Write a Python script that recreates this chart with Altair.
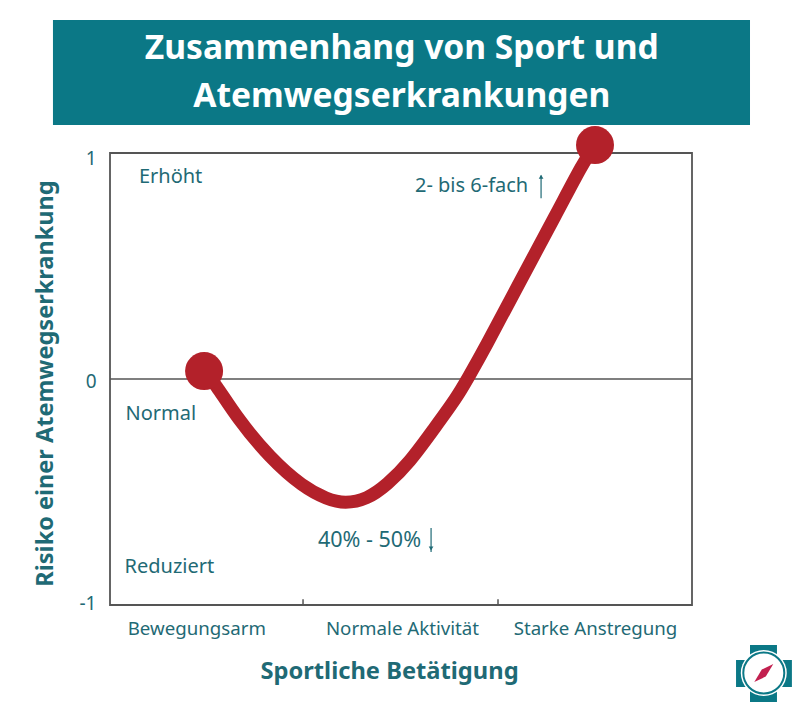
import altair as alt
import pandas as pd

TEAL = "#0b7886"
TXT = "#1f6a75"
RED = "#b3212a"
FRAME = "#555555"
FONT = "Noto Sans"

# curve (x: activity scale 0-3, y: risk -1..1)
curve_x = [0.485, 0.541, 0.655, 0.825, 0.995, 1.119, 1.211, 1.325, 1.428, 1.546, 1.665, 1.789, 1.845, 1.933, 2.098, 2.304, 2.438, 2.5]
curve_y = [0.035, -0.018, -0.173, -0.35, -0.478, -0.532, -0.552, -0.532, -0.469, -0.367, -0.226, -0.08, 0.004, 0.137, 0.407, 0.735, 0.956, 1.035]
end_x = [0.485, 2.5]
end_y = [0.035, 1.035]

label_x = [0.149, 0.08, 0.075, 1.572, 1.072]
label_y = [0.895, -0.155, -0.83, 0.855, -0.717]
labels = ["Erhöht", "Normal", "Reduziert", "2- bis 6-fach", "40% - 50%"]
label_size = [20, 20, 20, 20, 21.5]

x_ticks = [0.445, 1.505, 2.5]
x_names = ["Bewegungsarm", "Normale Aktivität", "Starke Anstregung"]

title_lines = ["Zusammenhang von Sport und", "Atemwegserkrankungen"]
title_y = [1.46, 1.25]

X = alt.Scale(domain=[0, 3], nice=False, zero=False)
Y = alt.Scale(domain=[-1, 1], nice=False, zero=False)
xe = lambda f="x", **k: alt.X(f"{f}:Q", scale=X, axis=None, **k)
ye = lambda f="y", **k: alt.Y(f"{f}:Q", scale=Y, axis=None, **k)

banner = alt.Chart(pd.DataFrame({"x": [-0.294], "x2": [3.299], "y": [1.124], "y2": [1.588]})).mark_rect(
    color=TEAL, clip=False
).encode(x=xe(), x2="x2:Q", y=ye(), y2="y2:Q")
title = alt.Chart(pd.DataFrame({"x": [1.504, 1.504], "y": title_y, "t": title_lines})).mark_text(
    align="center", baseline="middle", font=FONT, fontSize=33.6, fontWeight="bold", color="white", clip=False
).encode(x=xe(), y=ye(), text="t:N")

expr = "datum.value < 1 ? '" + x_names[0] + "' : datum.value < 2 ? '" + x_names[1] + "' : '" + x_names[2] + "'"
base = alt.Chart(pd.DataFrame({"x": [0.0], "y": [0.0]})).mark_point(opacity=0).encode(
    x=alt.X("x:Q", scale=X, title="Sportliche Betätigung", axis=alt.Axis(
        values=x_ticks, labelExpr=expr, ticks=False, domain=False, grid=False, labelFontSize=18.7,
        labelFont=FONT, labelColor=TXT, labelPadding=14, titleFont=FONT, titleFontSize=23.7,
        titleColor=TXT, titleFontWeight="bold", titlePadding=22, titleX=279)),
    y=alt.Y("y:Q", scale=Y, title="Risiko einer Atemwegserkrankung", axis=alt.Axis(
        values=[-1, 0, 1], labelExpr="datum.value == -1 ? '-1' : '' + datum.value", ticks=False,
        domain=False, grid=False, labelFontSize=19, labelOverlap=False,
        labelOffset={"expr": "datum.value == 1 ? 5 : datum.value == 0 ? 2 : -2"},
        labelFont=FONT, labelColor=TXT, labelPadding=14, titleFont=FONT, titleFontSize=23.5,
        titleColor=TXT, titleFontWeight="bold", titlePadding=22, titleY=230)),
)

zero = alt.Chart(pd.DataFrame({"y": [0.0]})).mark_rule(color=FRAME, strokeWidth=1.5).encode(y=ye())
ticks = alt.Chart(pd.DataFrame({"x": [0.995, 2.0], "y": [-1.0, -1.0], "y2": [-0.975, -0.975]})).mark_rule(
    color=FRAME, strokeWidth=1.5).encode(x=xe(), y=ye(), y2="y2:Q")

line = alt.Chart(pd.DataFrame({"x": curve_x, "y": curve_y, "o": range(len(curve_x))})).mark_line(
    color=RED, strokeWidth=13, interpolate="basis", clip=False, strokeCap="round"
).encode(x=xe(), y=ye(), order="o:Q")
ends = alt.Chart(pd.DataFrame({"x": end_x, "y": end_y})).mark_point(
    filled=True, color=RED, opacity=1, size=1444, clip=False
).encode(x=xe(), y=ye())

text = alt.Chart(pd.DataFrame({"x": label_x, "y": label_y, "t": labels, "s": label_size})).mark_text(
    align="left", baseline="middle", font=FONT, color=TXT
).encode(x=xe(), y=ye(), text="t:N", size=alt.Size("s:Q", scale=None, legend=None))

arrows = alt.Chart(pd.DataFrame({"x": [2.222, 1.655], "y": [0.80, -0.765], "y2": [0.90, -0.659]})).mark_rule(
    color=TXT, strokeWidth=1.2).encode(x=xe(), y=ye(), y2="y2:Q")
heads = alt.Chart(pd.DataFrame({"x": [2.222], "y": [0.895]})).mark_point(
    shape="triangle-up", filled=True, color=TXT, opacity=1, size=22).encode(x=xe(), y=ye())
heads2 = alt.Chart(pd.DataFrame({"x": [1.655], "y": [-0.75]})).mark_point(
    shape="triangle-down", filled=True, color=TXT, opacity=1, size=22).encode(x=xe(), y=ye())

# logo
logo_rect = alt.Chart(pd.DataFrame({
    "x": [3.299, 3.227], "x2": [3.438, 3.515],
    "y": [-1.177, -1.243], "y2": [-1.429, -1.363],
    })).mark_rect(color=TEAL, clip=False).encode(x=xe(), x2="x2:Q", y=ye(), y2="y2:Q")
logo_ring = alt.Chart(pd.DataFrame({"x": [3.37], "y": [-1.301]})).mark_point(
    filled=True, color="white", opacity=1, size=2116, clip=False).encode(x=xe(), y=ye())
logo_ring2 = alt.Chart(pd.DataFrame({"x": [3.37], "y": [-1.301]})).mark_point(
    filled=False, color=TEAL, opacity=1, size=1681, strokeWidth=2, clip=False).encode(x=xe(), y=ye())
needle = alt.Chart(pd.DataFrame({"x": [3.37], "y": [-1.301]})).mark_point(
    shape="M 0.95 -0.9 L 0.2 0.35 L -0.95 0.9 L -0.2 -0.35 Z", filled=True, color="#c2204f", opacity=1,
    size=400, clip=False).encode(x=xe(), y=ye())

chart = alt.layer(
    base, banner, title, zero, ticks, text, arrows, heads, heads2, line, ends,
    logo_rect, logo_ring, logo_ring2, needle
).resolve_axis(x="independent", y="independent").properties(
    width=582, height=452,
    padding={"left": 102, "top": 145, "right": 100, "bottom": 98},
    autosize=alt.AutoSizeParams(type="none"),
    background="white",
).configure_view(stroke=FRAME, strokeWidth=1.8)

chart.save("out.html", embed_options={"renderer": "svg", "actions": False})
